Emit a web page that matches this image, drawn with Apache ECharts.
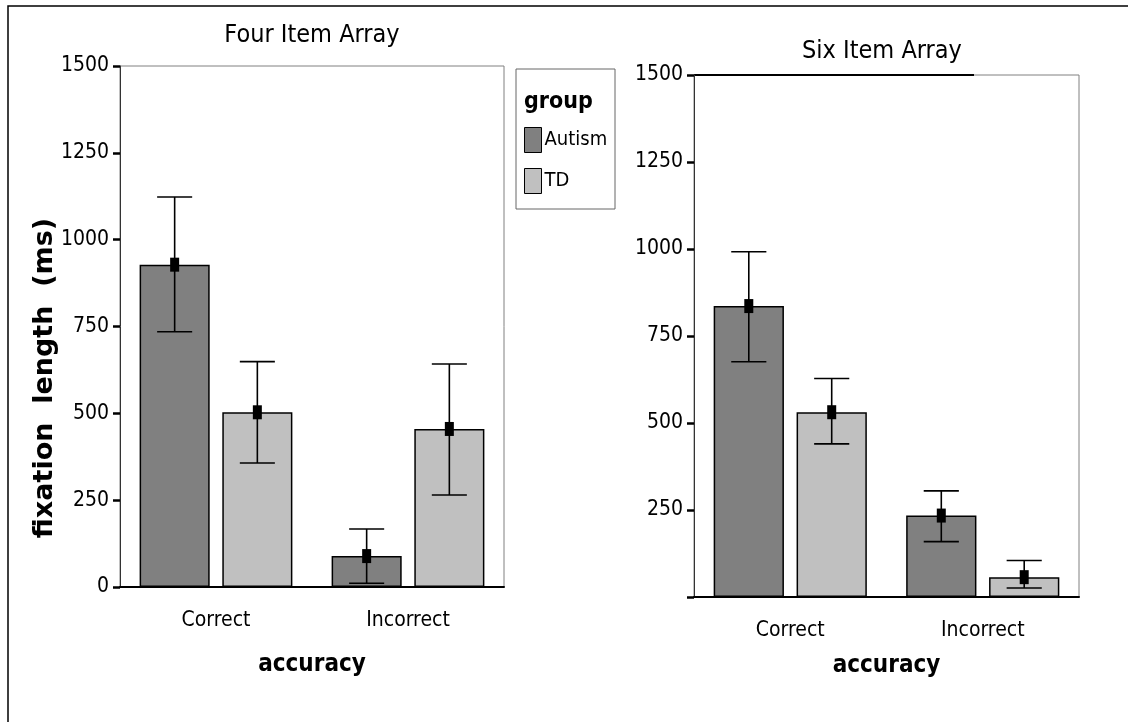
<!DOCTYPE html>
<html>
<head>
<meta charset="utf-8">
<script src="https://cdn.jsdelivr.net/npm/echarts@6/dist/echarts.min.js"></script>
<style>
  html, body { margin: 0; padding: 0; background: #fff; }
  #main { width: 1130px; height: 722px; }
</style>
</head>
<body>
<div id="main"></div>
<script>
// data
var categories = ['Correct', 'Incorrect']
var groups = ['Autism', 'TD']
var yTicks = [0, 250, 500, 750, 1000, 1250, 1500]

// Four Item Array
var fourAutismMean = [928, 89]
var fourAutismLow = [735, 11]
var fourAutismHigh = [1123, 167]
var fourTdMean = [503, 455]
var fourTdLow = [357, 265]
var fourTdHigh = [649, 642]

// Six Item Array
var sixAutismMean = [836, 234]
var sixAutismLow = [676, 159]
var sixAutismHigh = [992, 305]
var sixTdMean = [531, 57]
var sixTdLow = [440, 26]
var sixTdHigh = [628, 105]

var narrow = "'Liberation Sans Narrow', 'Arial Narrow', 'DejaVu Sans Condensed', sans-serif"
var colors = { Autism: '#808080', TD: '#c0c0c0' }
var BAR_W = 0.365
var BAR_GAP = 0.18

var myChart = echarts.init(document.getElementById('main'))

function errRows(mean, low, high) {
  return mean.map(function (m, i) { return [i, m, low[i], high[i]] })
}

// error bar + mean marker, placed on the grouped bar through the axis scale
function makeErr(gridIdx, rows, side) {
  return {
    type: 'custom',
    xAxisIndex: gridIdx,
    yAxisIndex: gridIdx,
    z: 5,
    silent: true,
    data: rows,
    renderItem: function (params, api) {
      var band = api.size([1, 0])[0]
      var bw = band * BAR_W
      var off = side * (bw + bw * BAR_GAP) / 2
      var pm = api.coord([api.value(0), api.value(1)])
      var pl = api.coord([api.value(0), api.value(2)])
      var ph = api.coord([api.value(0), api.value(3)])
      var x = pm[0] + off
      var cap = bw / 4
      var ls = { stroke: '#000', lineWidth: 1.6 }
      return {
        type: 'group',
        children: [
          { type: 'line', shape: { x1: x, y1: pl[1], x2: x, y2: ph[1] }, style: ls },
          { type: 'line', shape: { x1: x - cap, y1: ph[1], x2: x + cap, y2: ph[1] }, style: ls },
          { type: 'line', shape: { x1: x - cap, y1: pl[1], x2: x + cap, y2: pl[1] }, style: ls },
          { type: 'rect', shape: { x: x - 4.5, y: pm[1] - 7, width: 9, height: 14 }, style: { fill: '#000' } }
        ]
      }
    }
  }
}

function makeBar(gridIdx, name, values) {
  return {
    type: 'bar',
    name: name,
    xAxisIndex: gridIdx,
    yAxisIndex: gridIdx,
    data: values,
    barWidth: (BAR_W * 100) + '%',
    barGap: (BAR_GAP * 100) + '%',
    itemStyle: { color: colors[name], borderColor: '#000', borderWidth: 1.5 },
    silent: true
  }
}

function xAxisFor(gridIdx, tickLen, margin, nameGap) {
  return {
    type: 'category',
    gridIndex: gridIdx,
    data: categories,
    name: 'accuracy',
    nameLocation: 'middle',
    nameGap: nameGap,
    nameTextStyle: { fontFamily: narrow, fontWeight: 'bold', fontSize: 24, color: '#000' },
    axisLine: { lineStyle: { color: '#000', width: 2 } },
    axisTick: { alignWithLabel: true, length: tickLen, lineStyle: { color: '#000', width: 2 } },
    axisLabel: { fontFamily: narrow, fontSize: 21, color: '#000', margin: margin }
  }
}

function yAxisFor(gridIdx, showZero) {
  return {
    type: 'value',
    gridIndex: gridIdx,
    min: yTicks[0],
    max: yTicks[yTicks.length - 1],
    interval: yTicks[1] - yTicks[0],
    axisLine: { show: true, lineStyle: { color: '#333', width: 1 } },
    axisTick: { show: true, length: 7, lineStyle: { color: '#000', width: 2.5 } },
    splitLine: { show: false },
    axisLabel: {
      fontFamily: narrow, fontSize: 21, color: '#000', margin: 11,
      formatter: function (v) { return (v === 0 && !showZero) ? '' : String(v) }
    }
  }
}

var option = {
  backgroundColor: '#fff',
  animation: false,
  title: [
    { text: 'Four Item Array', left: 312, top: 23, textAlign: 'center', padding: 0,
      textStyle: { fontFamily: narrow, fontSize: 25, fontWeight: 'normal', color: '#000' } },
    { text: 'Six Item Array', left: 882, top: 39, textAlign: 'center', padding: 0,
      textStyle: { fontFamily: narrow, fontSize: 25, fontWeight: 'normal', color: '#000' } }
  ],
  legend: {
    data: groups,
    orient: 'vertical',
    left: 524,
    top: 127,
    padding: 0,
    itemWidth: 17,
    itemHeight: 25,
    itemGap: 15,
    icon: 'rect',
    itemStyle: { borderColor: '#000', borderWidth: 1 },
    textStyle: { fontFamily: narrow, fontSize: 20, color: '#000', padding: [0, 0, 0, -2] },
    selectedMode: false
  },
  grid: [
    { left: 120, right: 626, top: 66, bottom: 135, show: true, borderColor: '#808080', borderWidth: 1 },
    { left: 694, right: 51, top: 75, bottom: 125, show: true, borderColor: '#808080', borderWidth: 1 }
  ],
  xAxis: [xAxisFor(0, 8, 23, 66), xAxisFor(1, 13, 23, 57)],
  yAxis: [yAxisFor(0, true), yAxisFor(1, false)],
  series: [
    makeBar(0, 'Autism', fourAutismMean),
    makeBar(0, 'TD', fourTdMean),
    makeErr(0, errRows(fourAutismMean, fourAutismLow, fourAutismHigh), -1),
    makeErr(0, errRows(fourTdMean, fourTdLow, fourTdHigh), 1),
    makeBar(1, 'Autism', sixAutismMean),
    makeBar(1, 'TD', sixTdMean),
    makeErr(1, errRows(sixAutismMean, sixAutismLow, sixAutismHigh), -1),
    makeErr(1, errRows(sixTdMean, sixTdLow, sixTdHigh), 1)
  ],
  graphic: [
    // outer frame (top and left edges only)
    { type: 'polyline', shape: { points: [[8, 722], [8, 6], [1128, 6]] },
      style: { stroke: '#000', lineWidth: 1.5, fill: null }, silent: true },
    // legend box and its heading
    { type: 'rect', shape: { x: 516, y: 69, width: 99, height: 140 },
      style: { stroke: '#666', lineWidth: 1, fill: null }, silent: true },
    { type: 'text', x: 524, y: 91, style: { text: 'group', fontFamily: narrow, fontWeight: 'bold', fontSize: 23, fill: '#000' }, silent: true },
    // y axis title
    { type: 'text', x: 45, y: 378, rotation: Math.PI / 2,
      style: { text: 'fixation  length  (ms)', fontFamily: 'DejaVu Sans', fontWeight: 'bold', fontSize: 27,
        fill: '#000', align: 'center', verticalAlign: 'middle' }, silent: true },
    // dark top edge on the right panel
    { type: 'line', shape: { x1: 694, y1: 75, x2: 974, y2: 75 },
      style: { stroke: '#000', lineWidth: 2 }, silent: true }
  ]
}

myChart.setOption(option)
</script>
</body>
</html>
